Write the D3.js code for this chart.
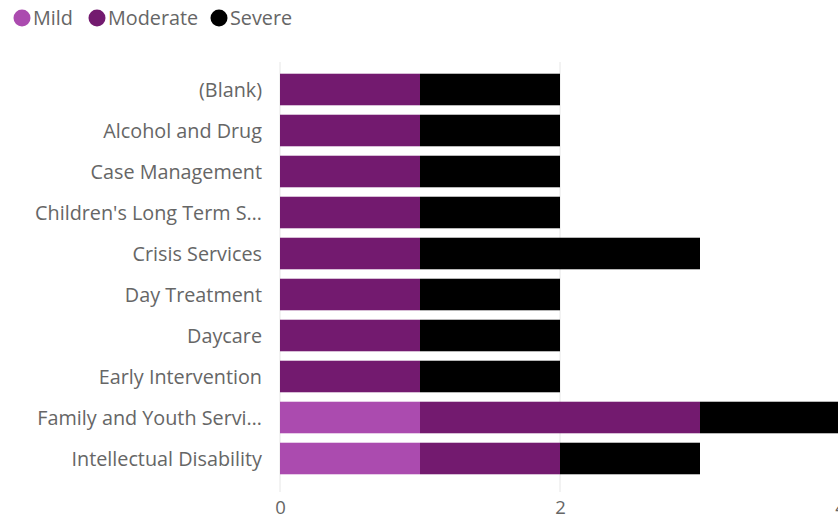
<!DOCTYPE html>
<html>
<head>
<meta charset="utf-8">
<script src="https://cdn.jsdelivr.net/npm/d3@7"></script>
<style>
  html, body { margin: 0; padding: 0; background: #fff; }
  svg { display: block; font-family: "Segoe UI", "Open Sans", "Noto Sans", sans-serif; }
</style>
</head>
<body>
<svg id="chart" width="838" height="521"></svg>
<script>
// Service categories (top to bottom)
const categories = [
  "(Blank)",
  "Alcohol and Drug",
  "Case Management",
  "Children's Long Term S…",
  "Crisis Services",
  "Day Treatment",
  "Daycare",
  "Early Intervention",
  "Family and Youth Servi…",
  "Intellectual Disability"
];
// Counts by severity, one value per category
const mild     = [0, 0, 0, 0, 0, 0, 0, 0, 1, 1];
const moderate = [1, 1, 1, 1, 1, 1, 1, 1, 2, 1];
const severe   = [1, 1, 1, 1, 2, 1, 1, 1, 1, 1];
const seriesNames = ["Mild", "Moderate", "Severe"];
const seriesColors = ["#AB4BAF", "#731A6F", "#000000"];
const xTicks = [0, 2, 4];

const FONT = "\"Segoe UI\", \"Open Sans\", \"Noto Sans\", sans-serif";
const TEXT_COLOR = "#666666";

const rows = categories.map((c, i) => ({ cat: c, Mild: mild[i], Moderate: moderate[i], Severe: severe[i] }));
const stacked = d3.stack().keys(seriesNames)(rows);

const svg = d3.select("#chart");
const x = d3.scaleLinear().domain([0, 4]).range([280, 840]);
const y = d3.scaleBand().domain(categories).range([69, 479]).paddingInner(0.23).paddingOuter(0.115);
const color = d3.scaleOrdinal().domain(seriesNames).range(seriesColors);

// Vertical gridlines
svg.append("g").selectAll("line").data(xTicks).join("line")
  .attr("x1", d => x(d)).attr("x2", d => x(d))
  .attr("y1", 62).attr("y2", 492)
  .attr("stroke", "#e6e6e6").attr("stroke-width", 1);

// Stacked bars
svg.append("g").selectAll("g").data(stacked).join("g")
  .attr("fill", d => color(d.key))
  .selectAll("rect").data(d => d).join("rect")
  .attr("x", d => x(d[0]))
  .attr("y", d => y(d.data.cat))
  .attr("width", d => x(d[1]) - x(d[0]))
  .attr("height", y.bandwidth());

// Category axis (no line, no ticks)
const yAxis = svg.append("g").attr("transform", "translate(270,1)")
  .call(d3.axisLeft(y).tickSize(0).tickPadding(8));
yAxis.select(".domain").remove();
yAxis.selectAll("text").attr("fill", TEXT_COLOR).attr("font-size", 19.8)
  .attr("font-family", FONT);

// Value axis
const xAxis = svg.append("g").attr("transform", "translate(0,498)")
  .call(d3.axisBottom(x).tickValues(xTicks).tickFormat(d3.format("d")).tickSize(0).tickPadding(3));
xAxis.select(".domain").remove();
xAxis.selectAll("text").attr("fill", TEXT_COLOR).attr("font-size", 18.5)
  .attr("font-family", FONT);

// Legend
const legendX = [22, 97, 219];
const legend = svg.append("g").selectAll("g").data(seriesNames).join("g")
  .attr("transform", (d, i) => `translate(${legendX[i]},18)`);
legend.append("circle").attr("r", 8.5).attr("fill", d => color(d));
legend.append("text").attr("x", 11).attr("dy", "0.35em")
  .attr("fill", TEXT_COLOR).attr("font-size", 19.8).text(d => d);
</script>
</body>
</html>
